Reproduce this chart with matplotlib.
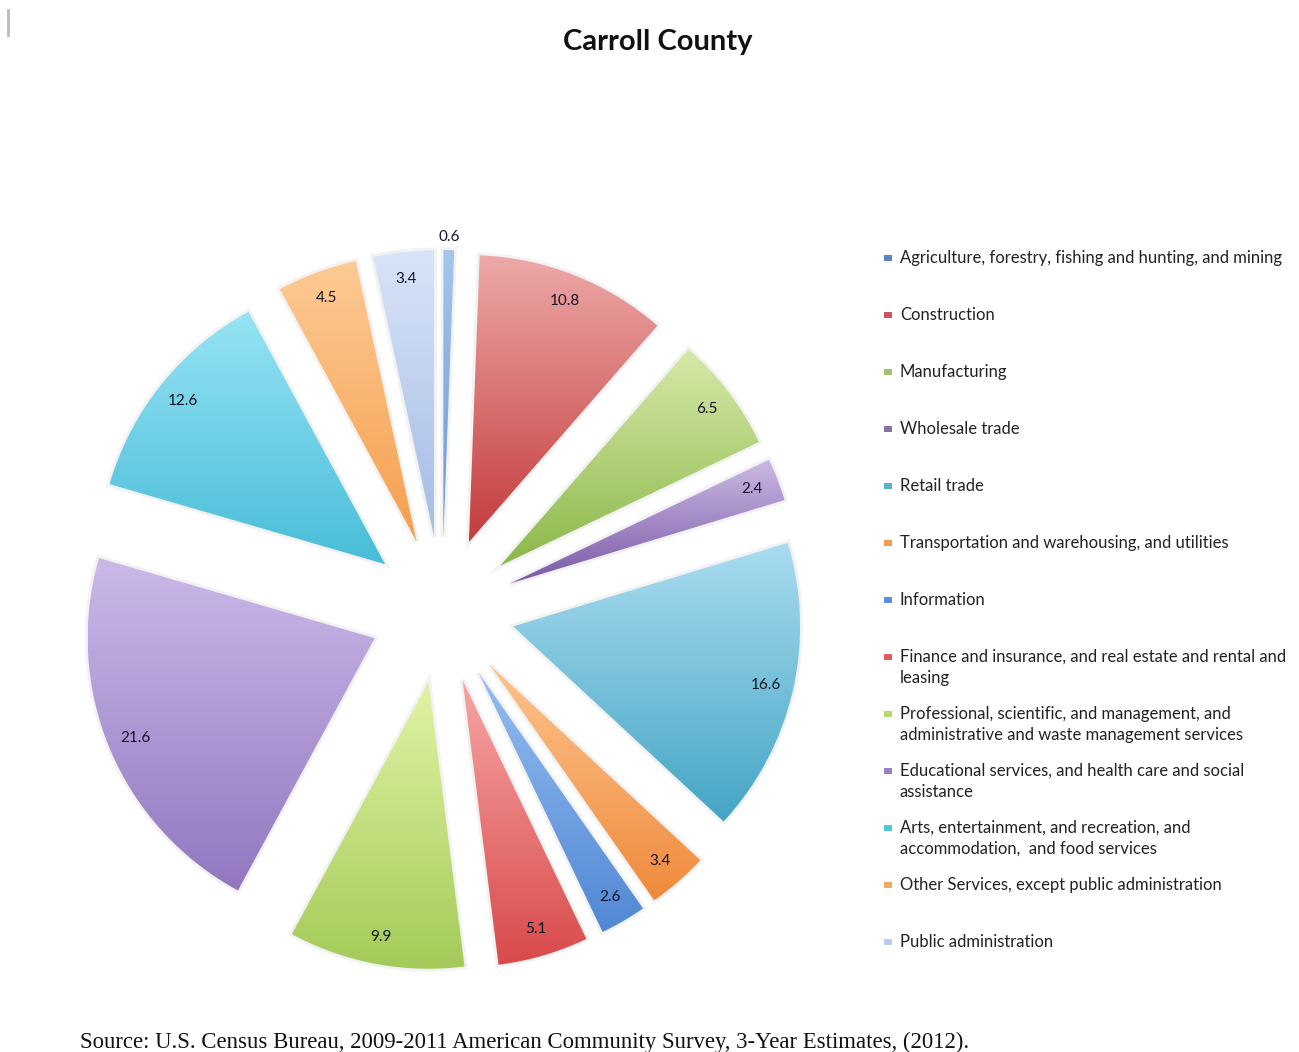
import numpy as np
import matplotlib
matplotlib.use("Agg")
import matplotlib.pyplot as plt
from matplotlib.colors import LinearSegmentedColormap
from matplotlib.patches import Rectangle

TITLE = "Carroll County"
SOURCE = ("Source: U.S. Census Bureau, 2009-2011 American Community Survey, "
          "3-Year Estimates, (2012).")

industries = [
    "Agriculture, forestry, fishing and hunting, and mining",
    "Construction",
    "Manufacturing",
    "Wholesale trade",
    "Retail trade",
    "Transportation and warehousing, and utilities",
    "Information",
    "Finance and insurance, and real estate and rental and\nleasing",
    "Professional, scientific, and management, and\nadministrative and waste management services",
    "Educational services, and health care and social\nassistance",
    "Arts, entertainment, and recreation, and\naccommodation,  and food services",
    "Other Services, except public administration",
    "Public administration",
]
shares = [0.6, 10.8, 6.5, 2.4, 16.6, 3.4, 2.6, 5.1, 9.9, 21.6, 12.6, 4.5, 3.4]

# light (top) and dark (bottom) ends of each slice's fill
top_colors = ["#a8c5ec", "#eda8a8", "#d7e9a9", "#cbb8e3", "#aadcf0", "#fcc48d",
              "#94bdf0", "#f7a5a5", "#e1f3a5", "#cbb9e8", "#97e3f4", "#fdca94",
              "#d8e4f8"]
bottom_colors = ["#6a95d2", "#c43c3c", "#8cb84a", "#7a5aa8", "#44a5c4", "#f08a3c",
                 "#5187d4", "#d84a4a", "#a3cb58", "#9277c0", "#48bdd8", "#f59f4e",
                 "#a5bbe5"]
key_colors = ["#5b84c0", "#c9575a", "#a3c26a", "#8a72ab", "#5ab4cc", "#f39a55",
              "#5a8ee0", "#e05c5c", "#b5d96e", "#9a80c6", "#52c4dc", "#f7a860",
              "#b8cbec"]

W, H = 1299, 1052
fig = plt.figure(figsize=(W / 100, H / 100), dpi=100)
ax = fig.add_axes([0, 0, 1, 1])

R = 287
wedges, _ = ax.pie(shares, radius=R, center=(442, H - 610), explode=[73] * len(shares),
                   startangle=90, counterclock=False)

grad = np.linspace(0, 1, 256).reshape(-1, 1)
for w, top, bot, v in zip(wedges, top_colors, bottom_colors, shares):
    # faint halo from the wedge outline, gradient painted on top of it
    w.set_facecolor("none")
    w.set_edgecolor((0.86, 0.86, 0.86, 0.35))
    w.set_linewidth(4)
    ext = w.get_path().get_extents()
    cmap = LinearSegmentedColormap.from_list("fill", [bot, top])
    ax.imshow(grad, cmap=cmap, origin="lower", aspect="auto", zorder=2,
              extent=(ext.x0, ext.x1, ext.y0, ext.y1), clip_path=w)

    # value label inside the slice, or just outside for the thinnest one
    mid = np.deg2rad((w.theta1 + w.theta2) / 2)
    dist = 1.045 * R if v < 1 else 0.905 * R
    cx, cy = w.center
    ax.text(cx + dist * np.cos(mid), cy + dist * np.sin(mid), f"{v}",
            ha="center", va="center", fontsize=11, color="#141428",
            family="Lato", zorder=3)

# legend, one row every 57 px, wrapped lines 21 px apart
for i, (name, col) in enumerate(zip(industries, key_colors)):
    y = H - (258 + 57 * i)
    ax.add_patch(Rectangle((884, y - 3), 8, 6, facecolor=col, edgecolor="none"))
    for k, line in enumerate(name.split("\n")):
        ax.text(900, y - 5 - 21 * k, line, va="baseline", ha="left", fontsize=12,
                family="Lato", color="#222222")

ax.text(658, H - 42, TITLE, ha="center", va="center", fontsize=21,
        fontweight="bold", family="Lato", color="#111111")
ax.text(80, H - 1048, SOURCE, ha="left", va="baseline", fontsize=16.4,
        family="Liberation Serif", color="#111111")
ax.plot([8, 8], [H - 10, H - 35], color="#bbbbbb", lw=2)

ax.set_xlim(0, W)
ax.set_ylim(0, H)
ax.set_aspect("equal")
ax.axis("off")

fig.savefig("out.png", dpi=100, facecolor="white")
